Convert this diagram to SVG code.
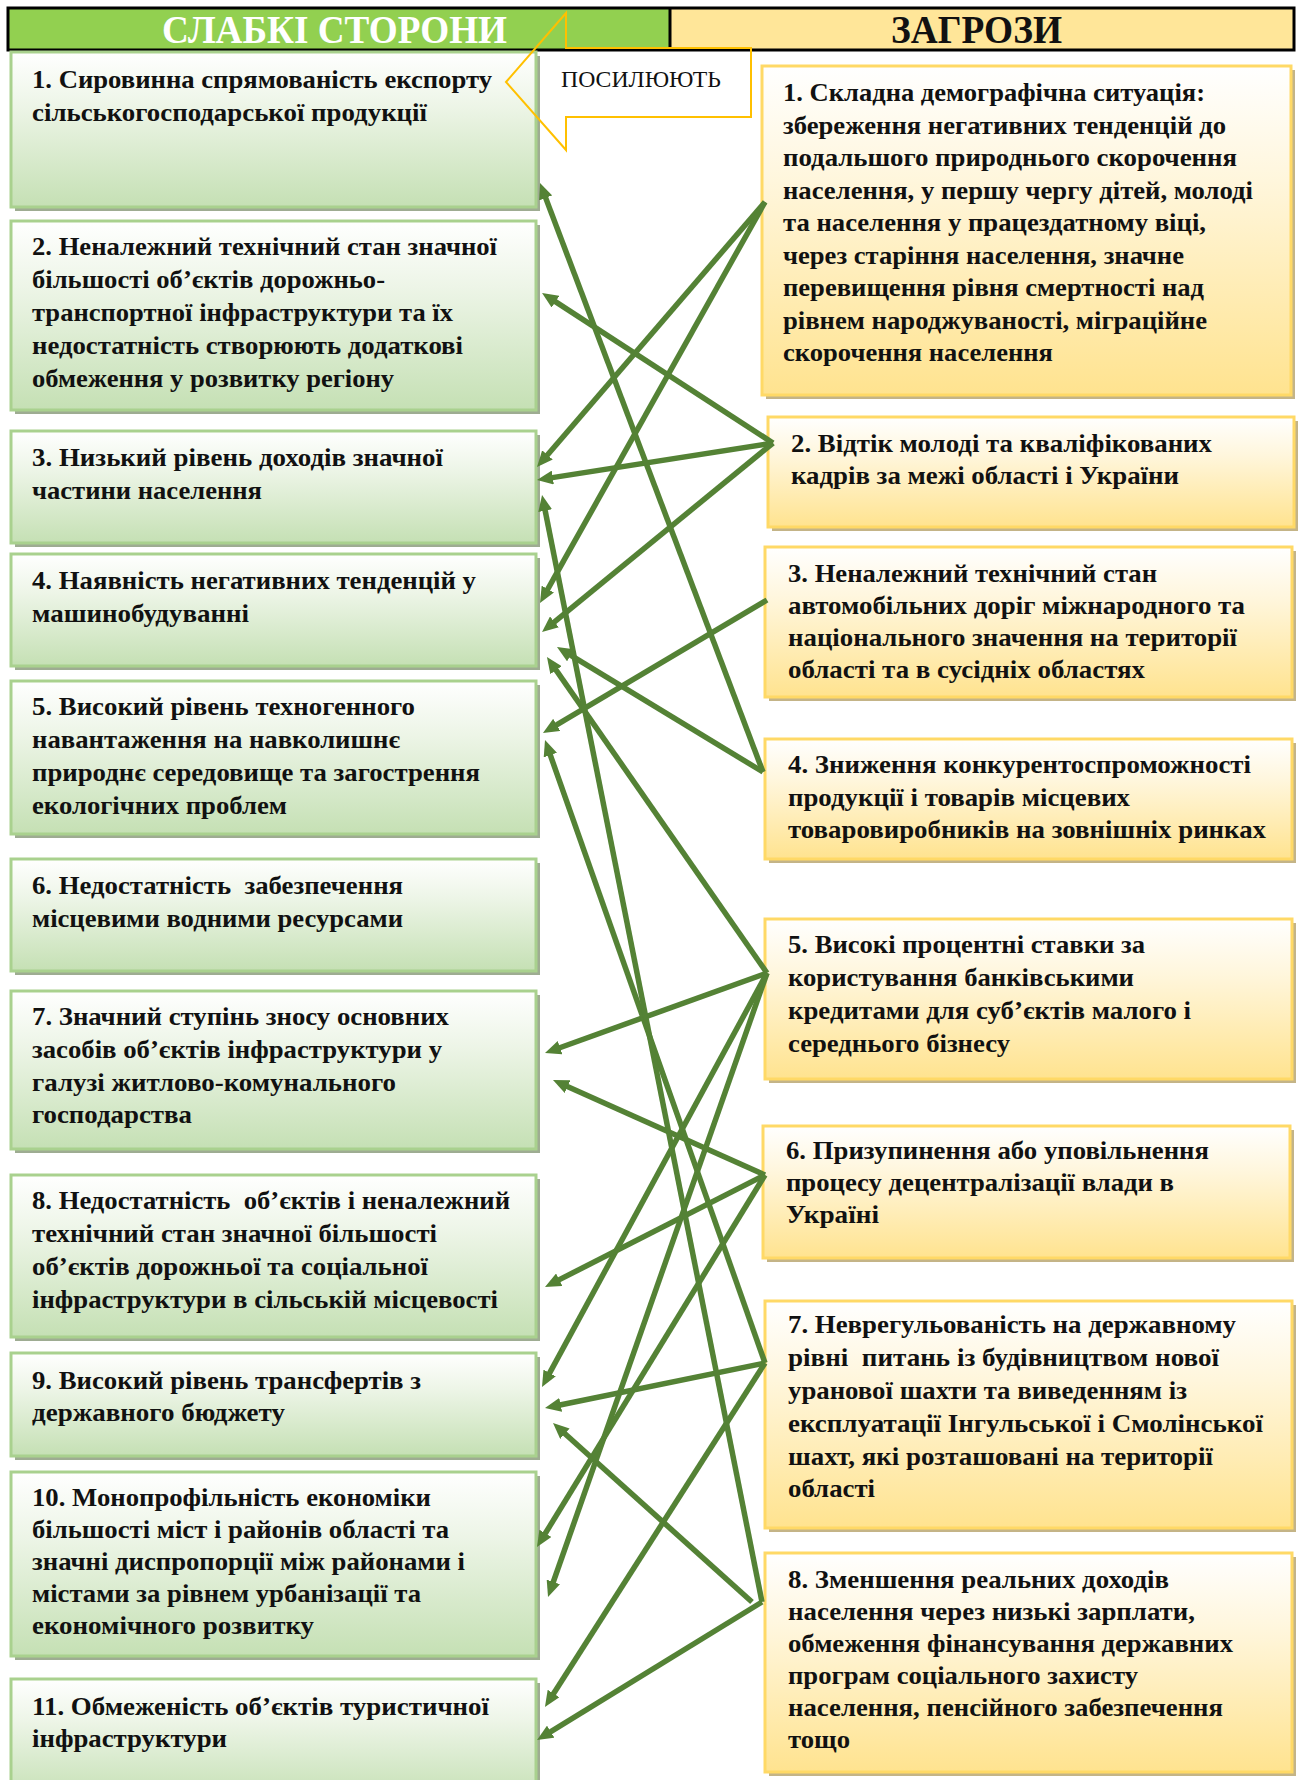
<svg xmlns="http://www.w3.org/2000/svg" width="1301" height="1780" viewBox="0 0 1301 1780">
<defs>
<linearGradient id="gG" x1="0" y1="0" x2="0" y2="1"><stop offset="0" stop-color="#FFFFFF"/><stop offset="0.35" stop-color="#EDF5E7"/><stop offset="1" stop-color="#C5E0B4"/></linearGradient>
<linearGradient id="gY" x1="0" y1="0" x2="0" y2="1"><stop offset="0" stop-color="#FFFFFF"/><stop offset="0.35" stop-color="#FFF6DC"/><stop offset="1" stop-color="#FFE38F"/></linearGradient>
<marker id="ah" viewBox="0 0 16 14" refX="7" refY="7" markerWidth="16" markerHeight="14" markerUnits="userSpaceOnUse" orient="auto"><path d="M0,0 L16,7 L0,14 z" fill="#548235"/></marker>
</defs>
<style>
.lt{font-family:"Liberation Serif","Times New Roman",serif;font-weight:bold;font-size:25.5px;fill:#111;white-space:pre}
.rt{font-family:"Liberation Serif","Times New Roman",serif;font-weight:bold;font-size:26px;fill:#111;white-space:pre}
.lbox{fill:url(#gG);stroke:#A9D18E;stroke-width:3}
.lsh{fill:#9EAC92}
.rbox{fill:url(#gY);stroke:#FFD966;stroke-width:3}
.rsh{fill:#C4B487}
.conn line{stroke:#548235;stroke-width:5.5;marker-end:url(#ah)}
</style>
<rect width="1301" height="1780" fill="#FFFFFF"/>

<g id="header">
<rect x="8" y="8" width="662" height="42" fill="#92D050"/>
<rect x="670" y="8" width="624" height="42" fill="#FFE699"/>
<rect x="8" y="8" width="1286" height="42" fill="none" stroke="#000" stroke-width="3"/>
<line x1="670" y1="8" x2="670" y2="50" stroke="#000" stroke-width="3"/>
<text x="162" y="43" textLength="345" lengthAdjust="spacingAndGlyphs" style="font-family:'Liberation Serif','Times New Roman',serif;font-weight:bold;font-size:39px;fill:#FFFFFF">СЛАБКІ СТОРОНИ</text>
<text x="891" y="43" textLength="171" lengthAdjust="spacingAndGlyphs" style="font-family:'Liberation Serif','Times New Roman',serif;font-weight:bold;font-size:39px;fill:#111">ЗАГРОЗИ</text>
</g>

<g id="weak-1"><rect class="lsh" x="15" y="56" width="525" height="155"/><rect class="lbox" x="11" y="52" width="525" height="155"/>
<text class="lt" x="32" y="88" textLength="460" lengthAdjust="spacingAndGlyphs">1. Сировинна спрямованість експорту</text>
<text class="lt" x="32" y="121" textLength="395" lengthAdjust="spacingAndGlyphs">сільськогосподарської продукції</text></g>

<g id="weak-2"><rect class="lsh" x="15" y="225" width="525" height="189"/><rect class="lbox" x="11" y="221" width="525" height="189"/>
<text class="lt" x="32" y="255" textLength="465" lengthAdjust="spacingAndGlyphs">2. Неналежний технічний стан значної</text>
<text class="lt" x="32" y="288" textLength="353" lengthAdjust="spacingAndGlyphs">більшості об’єктів дорожньо-</text>
<text class="lt" x="32" y="321" textLength="421" lengthAdjust="spacingAndGlyphs">транспортної інфраструктури та їх</text>
<text class="lt" x="32" y="354" textLength="431" lengthAdjust="spacingAndGlyphs">недостатність створюють додаткові</text>
<text class="lt" x="32" y="387" textLength="362" lengthAdjust="spacingAndGlyphs">обмеження у розвитку регіону</text></g>

<g id="weak-3"><rect class="lsh" x="15" y="435" width="525" height="112"/><rect class="lbox" x="11" y="431" width="525" height="112"/>
<text class="lt" x="32" y="466" textLength="411" lengthAdjust="spacingAndGlyphs">3. Низький рівень доходів значної</text>
<text class="lt" x="32" y="499" textLength="230" lengthAdjust="spacingAndGlyphs">частини населення</text></g>

<g id="weak-4"><rect class="lsh" x="15" y="558" width="525" height="112"/><rect class="lbox" x="11" y="554" width="525" height="112"/>
<text class="lt" x="32" y="589" textLength="444" lengthAdjust="spacingAndGlyphs">4. Наявність негативних тенденцій у</text>
<text class="lt" x="32" y="622" textLength="217" lengthAdjust="spacingAndGlyphs">машинобудуванні</text></g>

<g id="weak-5"><rect class="lsh" x="15" y="685" width="525" height="153"/><rect class="lbox" x="11" y="681" width="525" height="153"/>
<text class="lt" x="32" y="715" textLength="383" lengthAdjust="spacingAndGlyphs">5. Високий рівень техногенного</text>
<text class="lt" x="32" y="748" textLength="368" lengthAdjust="spacingAndGlyphs">навантаження на навколишнє</text>
<text class="lt" x="32" y="781" textLength="448" lengthAdjust="spacingAndGlyphs">природнє середовище та загострення</text>
<text class="lt" x="32" y="814" textLength="255" lengthAdjust="spacingAndGlyphs">екологічних проблем</text></g>

<g id="weak-6"><rect class="lsh" x="15" y="863" width="525" height="112"/><rect class="lbox" x="11" y="859" width="525" height="112"/>
<text class="lt" x="32" y="894" textLength="371" lengthAdjust="spacingAndGlyphs">6. Недостатність  забезпечення</text>
<text class="lt" x="32" y="927" textLength="371" lengthAdjust="spacingAndGlyphs">місцевими водними ресурсами</text></g>

<g id="weak-7"><rect class="lsh" x="15" y="995" width="525" height="158"/><rect class="lbox" x="11" y="991" width="525" height="158"/>
<text class="lt" x="32" y="1025" textLength="417" lengthAdjust="spacingAndGlyphs">7. Значний ступінь зносу основних</text>
<text class="lt" x="32" y="1058" textLength="410" lengthAdjust="spacingAndGlyphs">засобів об’єктів інфраструктури у</text>
<text class="lt" x="32" y="1091" textLength="364" lengthAdjust="spacingAndGlyphs">галузі житлово-комунального</text>
<text class="lt" x="32" y="1123" textLength="160" lengthAdjust="spacingAndGlyphs">господарства</text></g>

<g id="weak-8"><rect class="lsh" x="15" y="1179" width="525" height="162"/><rect class="lbox" x="11" y="1175" width="525" height="162"/>
<text class="lt" x="32" y="1209" textLength="478" lengthAdjust="spacingAndGlyphs">8. Недостатність  об’єктів і неналежний</text>
<text class="lt" x="32" y="1242" textLength="405" lengthAdjust="spacingAndGlyphs">технічний стан значної більшості</text>
<text class="lt" x="32" y="1275" textLength="396" lengthAdjust="spacingAndGlyphs">об’єктів дорожньої та соціальної</text>
<text class="lt" x="32" y="1308" textLength="466" lengthAdjust="spacingAndGlyphs">інфраструктури в сільській місцевості</text></g>

<g id="weak-9"><rect class="lsh" x="15" y="1357" width="525" height="103"/><rect class="lbox" x="11" y="1353" width="525" height="103"/>
<text class="lt" x="32" y="1389" textLength="389" lengthAdjust="spacingAndGlyphs">9. Високий рівень трансфертів з</text>
<text class="lt" x="32" y="1421" textLength="253" lengthAdjust="spacingAndGlyphs">державного бюджету</text></g>

<g id="weak-10"><rect class="lsh" x="15" y="1476" width="525" height="184"/><rect class="lbox" x="11" y="1472" width="525" height="184"/>
<text class="lt" x="32" y="1506" textLength="399" lengthAdjust="spacingAndGlyphs">10. Монопрофільність економіки</text>
<text class="lt" x="32" y="1538" textLength="417" lengthAdjust="spacingAndGlyphs">більшості міст і районів області та</text>
<text class="lt" x="32" y="1570" textLength="433" lengthAdjust="spacingAndGlyphs">значні диспропорції між районами і</text>
<text class="lt" x="32" y="1602" textLength="389" lengthAdjust="spacingAndGlyphs">містами за рівнем урбанізації та</text>
<text class="lt" x="32" y="1634" textLength="282" lengthAdjust="spacingAndGlyphs">економічного розвитку</text></g>

<g id="weak-11"><rect class="lsh" x="15" y="1683" width="525" height="120"/><rect class="lbox" x="11" y="1679" width="525" height="120"/>
<text class="lt" x="32" y="1715" textLength="457" lengthAdjust="spacingAndGlyphs">11. Обмеженість об’єктів туристичної</text>
<text class="lt" x="32" y="1747" textLength="195" lengthAdjust="spacingAndGlyphs">інфраструктури</text></g>

<g id="threat-1"><rect class="rsh" x="766" y="70" width="529" height="329"/><rect class="rbox" x="762" y="66" width="529" height="329"/>
<text class="rt" x="783" y="101" textLength="422" lengthAdjust="spacingAndGlyphs">1. Складна демографічна ситуація:</text>
<text class="rt" x="783" y="133.5" textLength="443" lengthAdjust="spacingAndGlyphs">збереження негативних тенденцій до</text>
<text class="rt" x="783" y="166" textLength="454" lengthAdjust="spacingAndGlyphs">подальшого природнього скорочення</text>
<text class="rt" x="783" y="198.5" textLength="470" lengthAdjust="spacingAndGlyphs">населення, у першу чергу дітей, молоді</text>
<text class="rt" x="783" y="231" textLength="423" lengthAdjust="spacingAndGlyphs">та населення у працездатному віці,</text>
<text class="rt" x="783" y="263.5" textLength="401" lengthAdjust="spacingAndGlyphs">через старіння населення, значне</text>
<text class="rt" x="783" y="296" textLength="421" lengthAdjust="spacingAndGlyphs">перевищення рівня смертності над</text>
<text class="rt" x="783" y="328.5" textLength="424" lengthAdjust="spacingAndGlyphs">рівнем народжуваності, міграційне</text>
<text class="rt" x="783" y="361" textLength="270" lengthAdjust="spacingAndGlyphs">скорочення населення</text></g>

<g id="threat-2"><rect class="rsh" x="772" y="421" width="526" height="110"/><rect class="rbox" x="768" y="417" width="526" height="110"/>
<text class="rt" x="791" y="452" textLength="421" lengthAdjust="spacingAndGlyphs">2. Відтік молоді та кваліфікованих</text>
<text class="rt" x="791" y="484" textLength="388" lengthAdjust="spacingAndGlyphs">кадрів за межі області і України</text></g>

<g id="threat-3"><rect class="rsh" x="769" y="551" width="527" height="150"/><rect class="rbox" x="765" y="547" width="527" height="150"/>
<text class="rt" x="788" y="582" textLength="369" lengthAdjust="spacingAndGlyphs">3. Неналежний технічний стан</text>
<text class="rt" x="788" y="614" textLength="457" lengthAdjust="spacingAndGlyphs">автомобільних доріг міжнародного та</text>
<text class="rt" x="788" y="646" textLength="449" lengthAdjust="spacingAndGlyphs">національного значення на території</text>
<text class="rt" x="788" y="678" textLength="357" lengthAdjust="spacingAndGlyphs">області та в сусідніх областях</text></g>

<g id="threat-4"><rect class="rsh" x="769" y="743" width="527" height="120"/><rect class="rbox" x="765" y="739" width="527" height="120"/>
<text class="rt" x="788" y="773" textLength="463" lengthAdjust="spacingAndGlyphs">4. Зниження конкурентоспроможності</text>
<text class="rt" x="788" y="806" textLength="342" lengthAdjust="spacingAndGlyphs">продукції і товарів місцевих</text>
<text class="rt" x="788" y="838" textLength="478" lengthAdjust="spacingAndGlyphs">товаровиробників на зовнішніх ринках</text></g>

<g id="threat-5"><rect class="rsh" x="769" y="923" width="527" height="160"/><rect class="rbox" x="765" y="919" width="527" height="160"/>
<text class="rt" x="788" y="953" textLength="357" lengthAdjust="spacingAndGlyphs">5. Високі процентні ставки за</text>
<text class="rt" x="788" y="986" textLength="346" lengthAdjust="spacingAndGlyphs">користування банківськими</text>
<text class="rt" x="788" y="1019" textLength="403" lengthAdjust="spacingAndGlyphs">кредитами для суб’єктів малого і</text>
<text class="rt" x="788" y="1052" textLength="222" lengthAdjust="spacingAndGlyphs">середнього бізнесу</text></g>

<g id="threat-6"><rect class="rsh" x="767" y="1130" width="527" height="132"/><rect class="rbox" x="763" y="1126" width="527" height="132"/>
<text class="rt" x="786" y="1159" textLength="423" lengthAdjust="spacingAndGlyphs">6. Призупинення або уповільнення</text>
<text class="rt" x="786" y="1191" textLength="388" lengthAdjust="spacingAndGlyphs">процесу децентралізації влади в</text>
<text class="rt" x="786" y="1223" textLength="93" lengthAdjust="spacingAndGlyphs">Україні</text></g>

<g id="threat-7"><rect class="rsh" x="769" y="1305" width="527" height="227"/><rect class="rbox" x="765" y="1301" width="527" height="227"/>
<text class="rt" x="788" y="1333" textLength="448" lengthAdjust="spacingAndGlyphs">7. Неврегульованість на державному</text>
<text class="rt" x="788" y="1366" textLength="431" lengthAdjust="spacingAndGlyphs">рівні  питань із будівництвом нової</text>
<text class="rt" x="788" y="1399" textLength="399" lengthAdjust="spacingAndGlyphs">уранової шахти та виведенням із</text>
<text class="rt" x="788" y="1432" textLength="475" lengthAdjust="spacingAndGlyphs">експлуатації Інгульської і Смолінської</text>
<text class="rt" x="788" y="1465" textLength="425" lengthAdjust="spacingAndGlyphs">шахт, які розташовані на території</text>
<text class="rt" x="788" y="1497" textLength="87" lengthAdjust="spacingAndGlyphs">області</text></g>

<g id="threat-8"><rect class="rsh" x="769" y="1557" width="527" height="219"/><rect class="rbox" x="765" y="1553" width="527" height="219"/>
<text class="rt" x="788" y="1588" textLength="381" lengthAdjust="spacingAndGlyphs">8. Зменшення реальних доходів</text>
<text class="rt" x="788" y="1620" textLength="407" lengthAdjust="spacingAndGlyphs">населення через низькі зарплати,</text>
<text class="rt" x="788" y="1652" textLength="445" lengthAdjust="spacingAndGlyphs">обмеження фінансування державних</text>
<text class="rt" x="788" y="1684" textLength="350" lengthAdjust="spacingAndGlyphs">програм соціального захисту</text>
<text class="rt" x="788" y="1716" textLength="435" lengthAdjust="spacingAndGlyphs">населення, пенсійного забезпечення</text>
<text class="rt" x="788" y="1748" textLength="62" lengthAdjust="spacingAndGlyphs">тощо</text></g>

<g id="connectors" class="conn">
<line x1="765" y1="202" x2="542.9" y2="460.2"/>
<line x1="765" y1="202" x2="544.4" y2="595.2"/>
<line x1="773" y1="443" x2="549.6" y2="297.9"/>
<line x1="773" y1="443" x2="545.9" y2="478.6"/>
<line x1="773" y1="443" x2="549" y2="626.3"/>
<line x1="767" y1="600" x2="550.7" y2="728.4"/>
<line x1="763" y1="772" x2="543.2" y2="191.4"/>
<line x1="763" y1="772" x2="564.7" y2="651.7"/>
<line x1="767" y1="973" x2="552.1" y2="664.4"/>
<line x1="767" y1="973" x2="553.5" y2="1050"/>
<line x1="767" y1="973" x2="546.3" y2="1379.1"/>
<line x1="767" y1="973" x2="551" y2="1588.5"/>
<line x1="765" y1="1175" x2="561.2" y2="1083.7"/>
<line x1="765" y1="1175" x2="553" y2="1282.9"/>
<line x1="765" y1="1175" x2="541.7" y2="1539.3"/>
<line x1="765" y1="1363" x2="548" y2="748.5"/>
<line x1="765" y1="1363" x2="553.8" y2="1406.2"/>
<line x1="765" y1="1363" x2="549.8" y2="1699.4"/>
<line x1="762" y1="1602" x2="543.8" y2="503.8"/>
<line x1="752" y1="1602" x2="559.7" y2="1429"/>
<line x1="762" y1="1602" x2="544.7" y2="1735.3"/>
</g>

<g id="strengthen-arrow">
<polygon points="506,82 566,13 566,48 751,48 751,117 566,117 566,150" fill="none" stroke="#FFC000" stroke-width="2"/>
<text x="561" y="87" textLength="160" lengthAdjust="spacingAndGlyphs" style="font-family:'Liberation Serif','Times New Roman',serif;font-size:22.5px;fill:#111">ПОСИЛЮЮТЬ</text>
</g>
</svg>
